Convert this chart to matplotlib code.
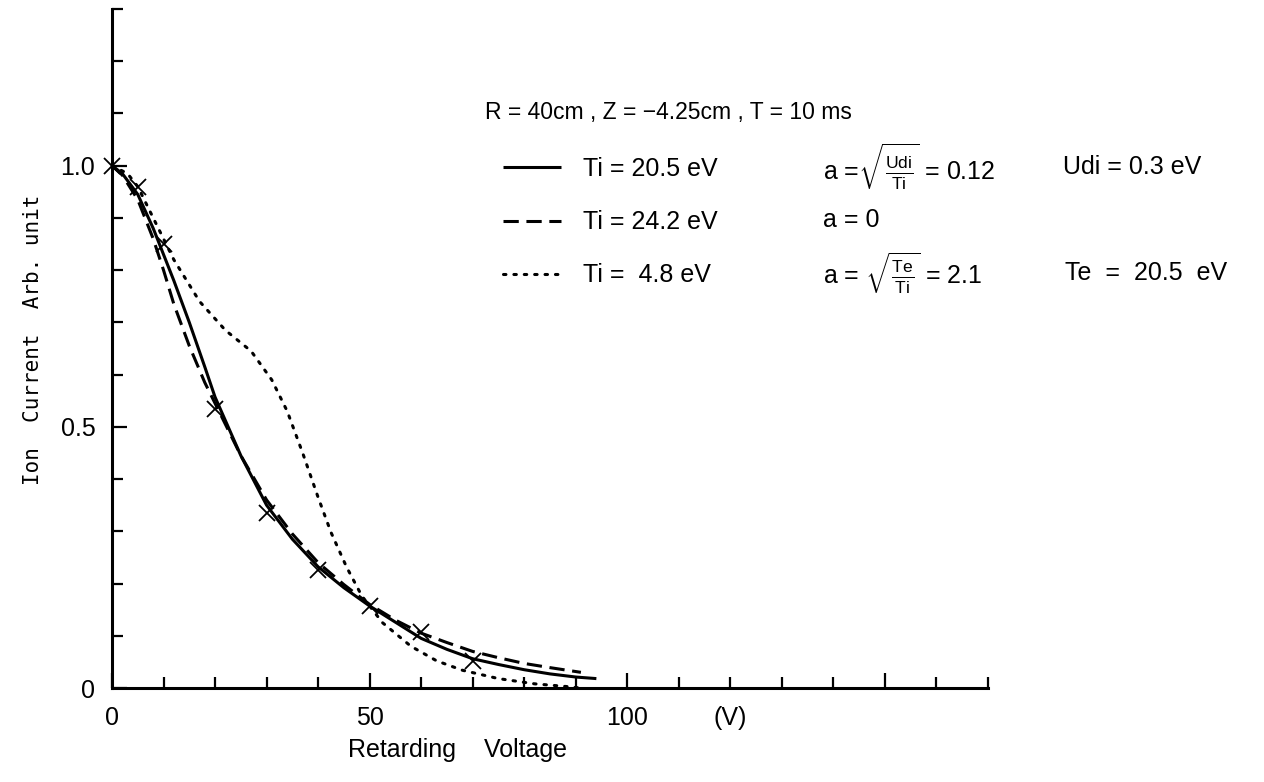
import numpy as np
import matplotlib
matplotlib.use('Agg')
import matplotlib.pyplot as plt
from matplotlib.ticker import MultipleLocator, FixedLocator

plt.rcParams['font.family'] = ['Liberation Sans', 'DejaVu Sans']
plt.rcParams['mathtext.fontset'] = 'custom'
plt.rcParams['mathtext.rm'] = 'Liberation Sans'
plt.rcParams['mathtext.it'] = 'Liberation Sans'

# measured points (crosses)
meas_v = [0, 5, 10, 20, 30, 40, 50, 60, 70]
meas_i = [1.0, 0.96, 0.85, 0.535, 0.335, 0.225, 0.157, 0.108, 0.052]

# fit, Ti = 20.5 eV, a = 0.12
fit1_v = [0, 2, 5, 8, 10, 12, 15, 18, 20, 25, 30, 35, 40, 45, 50, 55, 60, 65, 70, 75, 80, 85,
          90, 94]
fit1_i = [1.0, 0.985, 0.945, 0.88, 0.83, 0.78, 0.70, 0.615, 0.557, 0.445, 0.35, 0.285, 0.232,
          0.192, 0.157, 0.126, 0.095, 0.074, 0.056, 0.045, 0.035, 0.027, 0.021, 0.018]

# fit, Ti = 24.2 eV, a = 0
fit2_v = [0, 2, 5, 8, 10, 12, 15, 18, 20, 25, 30, 35, 40, 45, 50, 55, 60, 65, 70, 75, 80, 85, 91]
fit2_i = [1.0, 0.982, 0.935, 0.86, 0.80, 0.735, 0.655, 0.585, 0.545, 0.445, 0.36, 0.295, 0.24,
          0.198, 0.16, 0.13, 0.105, 0.087, 0.07, 0.058, 0.047, 0.039, 0.03]

# fit, Ti = 4.8 eV, a = 2.1
fit3_v = [0, 3, 5, 8, 12, 17, 22, 27, 31, 34, 37, 40, 42.5, 45.5, 48.5, 52.5, 58, 63, 68, 75,
          82, 88, 91]
fit3_i = [1.0, 0.985, 0.96, 0.9, 0.82, 0.74, 0.685, 0.645, 0.59, 0.53, 0.45, 0.365, 0.298,
          0.232, 0.176, 0.125, 0.08, 0.052, 0.034, 0.018, 0.008, 0.003, 0.0]

labels = ['Ti = 20.5 eV', 'Ti = 24.2 eV', 'Ti =  4.8 eV']

W, H = 1264, 782
fig = plt.figure(figsize=(W / 100, H / 100), dpi=100)
ax = fig.add_axes([112 / W, 1 - 688 / H, (988 - 112) / W, (688 - 9) / H])


def ftext(x, y, s, **kw):
    # place text by pixel position on the figure
    fig.text(x / W, 1 - y / H, s, **kw)


lw = 2.2
l1, = ax.plot(fit1_v, fit1_i, color='black', lw=lw, solid_capstyle='butt')
l2, = ax.plot(fit2_v, fit2_i, color='black', lw=lw, linestyle=(0, (5, 2.5)))
l3, = ax.plot(fit3_v, fit3_i, color='black', lw=lw, linestyle=(0, (0.8, 2.6)),
              dash_capstyle='round')
ax.plot(meas_v, meas_i, linestyle='none', marker='x', color='black', markersize=11,
        markeredgewidth=1.3, clip_on=False)

ax.set_xlim(0, 170)
ax.set_ylim(0, 1.3)
for s in ('top', 'right'):
    ax.spines[s].set_visible(False)
for s in ('left', 'bottom'):
    ax.spines[s].set_linewidth(2.2)

ax.xaxis.set_major_locator(FixedLocator([0, 50, 100, 150]))
ax.xaxis.set_minor_locator(MultipleLocator(10))
ax.set_xticklabels(['0', '50', '100', ''])
ax.yaxis.set_major_locator(FixedLocator([0, 0.5, 1.0]))
ax.yaxis.set_minor_locator(MultipleLocator(0.1))
ax.set_yticklabels(['0', '0.5', '1.0'])
ax.tick_params(which='both', direction='in', width=1.6, labelsize=18, color='black')
ax.tick_params(which='major', length=11)
ax.tick_params(which='minor', length=8)
ax.tick_params(axis='x', pad=13)
ax.tick_params(axis='y', pad=12)

ax.annotate('(V)', xy=(120, 0), xycoords=('data', 'axes fraction'), xytext=(0, -13),
            textcoords='offset points', ha='center', va='top', fontsize=18)

ftext(33, 340, 'Ion  Current  Arb. unit', family='DejaVu Sans Mono', fontsize=15,
      rotation=90, ha='center', va='center')
ftext(458, 750, 'Retarding    Voltage', fontsize=18, ha='center', va='center')

ax.legend([l1, l2, l3], labels, loc='upper left', bbox_to_anchor=(503 / W, 1 - 157 / H),
          bbox_transform=fig.transFigure, frameon=False, fontsize=18, handlelength=2.3,
          handletextpad=0.9, labelspacing=1.17, borderaxespad=0, borderpad=0)

ftext(485, 112, 'R = 40cm , Z = \u22124.25cm , T = 10 ms', fontsize=16.5, va='center')
ftext(823, 167, r'a =$\sqrt{\frac{\mathrm{Udi}}{\mathrm{Ti}}}$ = 0.12', fontsize=18, va='center')
ftext(823, 220, 'a = 0', fontsize=18, va='center')
ftext(823, 273, r'a = $\sqrt{\frac{\mathrm{Te}}{\mathrm{Ti}}}$ = 2.1', fontsize=18, va='center')
ftext(1063, 167, 'Udi = 0.3 eV', fontsize=18, va='center')
ftext(1065, 273, 'Te  =  20.5  eV', fontsize=18, va='center')

fig.savefig('out.png', dpi=100)
